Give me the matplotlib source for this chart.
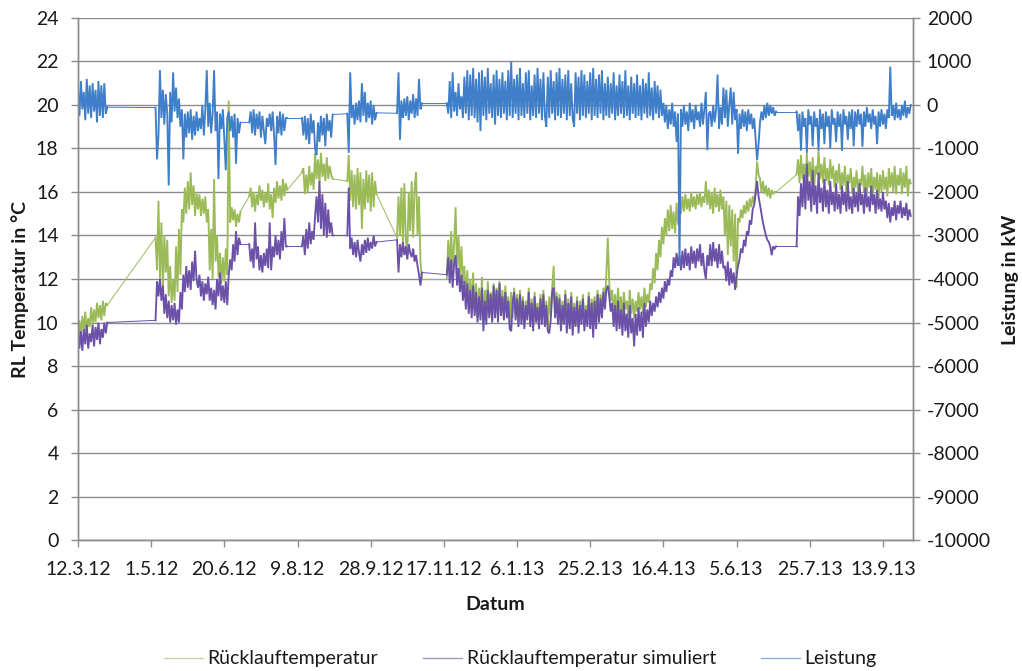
import numpy as np
import matplotlib
matplotlib.use("Agg")
import matplotlib.pyplot as plt
import matplotlib.dates as mdates
from matplotlib import font_manager
from matplotlib.lines import Line2D

# ---------------------------------------------------------------------------
# Data: daily readings, grouped into measurement runs (gaps between runs
# are bridged by a thin straight line, as in the original logger export)
# ---------------------------------------------------------------------------
origin = np.datetime64("2012-03-12")
run_offsets = [0, 53, 117, 153, 184, 218, 252, 491]   # first day of each run

# Rücklauftemperatur (measured), °C
green_runs = [
    [9.0, 10.1, 9.4, 10.3, 9.6, 10.5, 9.5, 10.2, 9.8, 10.7, 9.9, 10.6, 10.0, 10.9, 10.2, 10.8, 10.1, 11.0, 10.3, 10.9, 10.8],
    [13.9, 12.4, 15.6, 12.0, 14.6, 11.5, 14.0, 12.3, 13.8, 11.2,
     12.6, 10.9, 12.0, 11.0, 13.5, 11.4, 14.3, 12.2, 15.2, 14.6,
     16.2, 15.0, 16.5, 15.2, 16.9, 15.4, 16.3, 14.9, 16.0, 15.2,
     15.9, 14.9, 15.7, 15.0, 15.8, 14.6, 15.2, 12.4, 14.3, 12.0,
     16.6, 12.8, 14.0, 12.1, 13.2, 11.8, 13.0, 11.9, 13.4, 12.2,
     20.2, 14.6, 15.3, 14.7, 15.2, 14.4, 15.0, 14.6, 15.1],
    [15.8, 16.2, 15.3, 16.0, 15.1, 15.9, 15.4, 16.3, 15.6, 16.1,
     15.3, 16.0, 15.5, 16.4, 15.2, 15.9, 14.8, 16.2, 15.5, 16.5,
     15.7, 16.3, 15.6, 16.6, 15.8, 16.4, 16.1],
    [16.9, 17.1, 15.9, 16.8, 16.0, 17.2, 16.3, 16.9, 16.1, 17.8,
     16.6, 17.5, 16.4, 17.8, 16.7, 17.3, 16.5, 17.6, 16.6, 17.2,
     16.8, 16.6],
    [16.5, 17.7, 15.6, 17.0, 15.3, 16.8, 15.2, 17.1, 15.4, 16.9,
     14.3, 16.6, 15.2, 17.0, 15.5, 16.8, 15.1, 16.9, 15.3, 16.5,
     15.9],
    [13.9, 15.8, 14.0, 16.2, 13.7, 16.4, 13.8, 13.1, 16.0, 14.2,
     16.5, 13.9, 16.2, 16.9, 14.0, 15.8, 12.8, 12.0],
    [12.0, 13.8, 12.3, 14.2, 12.5, 13.6, 15.3, 12.4, 14.0, 12.1,
     13.5, 11.8, 12.6, 11.0, 12.4, 10.6, 12.0, 10.8, 12.3, 10.5,
     11.8, 10.2, 11.6, 10.4, 12.1, 10.0, 11.5, 10.3, 11.9, 10.6,
     11.4, 10.1, 11.8, 10.4, 11.6, 10.3, 11.9, 10.5, 11.5, 10.3,
     11.7, 10.6, 11.2, 10.0, 11.4, 10.2, 11.6, 10.4, 11.3, 9.9,
     11.5, 10.1, 11.2, 9.8, 11.0, 10.3, 11.6, 10.0, 11.1, 9.8,
     11.4, 10.2, 10.9, 9.9, 11.3, 10.1, 11.5, 10.0, 11.0, 9.7,
     11.2, 10.3, 11.6, 12.6, 10.5, 11.4, 10.1, 11.3, 9.9, 11.0,
     10.2, 11.5, 9.8, 11.1, 10.0, 11.4, 9.7, 10.9, 10.1, 11.2,
     9.8, 11.0, 10.2, 11.3, 9.9, 10.8, 10.1, 11.4, 10.0, 11.1,
     10.3, 11.2, 10.0, 11.5, 10.4, 11.3, 10.6, 11.6, 11.0, 12.2,
     13.9, 11.8, 11.0, 11.5, 10.4, 11.3, 10.3, 11.6, 10.5, 11.2,
     10.2, 11.4, 10.6, 11.0, 10.3, 11.5, 10.4, 11.1, 10.2, 11.0,
     10.5, 11.4, 10.6, 11.2, 10.4, 11.6, 10.7, 11.3, 10.9, 11.8,
     11.5, 12.5, 11.8, 13.2, 12.4, 13.8, 13.0, 14.4, 13.6, 14.8,
     14.0, 15.2, 14.2, 15.4, 14.3, 15.1, 14.1, 15.5, 14.5, 15.3,
     15.0, 15.8, 15.1, 15.9, 15.2, 15.7, 15.1, 16.0, 15.3, 15.8,
     15.2, 15.9, 15.4, 16.0, 15.3, 15.8, 15.5, 16.5, 15.4, 16.1,
     15.2, 16.0, 15.0, 16.2, 15.3, 15.9, 15.1, 16.1, 15.2, 15.8,
     14.0, 15.6, 13.1, 15.4, 13.5, 15.2, 12.8, 15.0, 11.6, 14.8,
     14.6, 15.2, 14.8, 15.4, 15.0, 15.6, 15.1, 15.7, 15.3, 15.8,
     15.5, 16.2, 17.4, 16.8, 16.6, 16.0, 16.5, 15.9, 16.3, 15.8,
     16.2, 15.7, 16.1, 15.9, 16.0, 16.0],
    [16.8, 17.5, 16.4, 17.7, 16.6, 17.3, 16.3, 17.8, 16.7, 17.4,
     16.5, 17.6, 16.2, 17.2, 16.8, 17.9, 16.6, 17.3, 16.4, 17.6,
     16.5, 17.1, 16.3, 17.5, 16.6, 17.2, 16.2, 17.0, 16.4, 17.3,
     16.1, 16.9, 16.3, 17.2, 16.0, 16.8, 16.4, 17.1, 15.9, 16.7,
     16.2, 17.0, 15.9, 16.6, 16.3, 17.2, 16.0, 16.8, 15.8, 16.9,
     16.2, 17.1, 15.9, 16.7, 16.1, 16.9, 15.7, 16.8, 16.0, 17.0,
     16.1, 16.7, 15.8, 17.1, 16.2, 16.9, 16.0, 17.2, 15.9, 16.8,
     16.3, 17.1, 15.9, 16.9, 16.2, 17.2, 15.8, 16.6, 16.4],
]

# Rücklauftemperatur simuliert, °C
purple_runs = [
    [9.8, 8.8, 9.6, 8.7, 9.7, 9.0, 9.9, 8.8, 9.5, 9.1, 9.9, 8.9, 9.8, 9.2, 10.0, 9.0, 9.7, 9.3, 10.0, 9.5, 10.0],
    [10.1, 11.9, 11.2, 12.0, 11.0, 11.7, 10.4, 11.3, 10.2, 11.0,
     10.0, 10.8, 10.1, 10.9, 9.9, 10.6, 10.0, 11.4, 10.6, 12.2,
     11.4, 12.6, 11.6, 12.4, 11.5, 12.8, 11.9, 13.3, 12.0, 11.6,
     12.2, 11.2, 11.9, 11.0, 11.8, 11.3, 12.1, 11.0, 11.6, 10.8,
     11.5, 10.6, 12.0, 11.2, 12.3, 11.0, 11.7, 10.9, 11.9, 10.8,
     12.2, 12.9, 12.4, 13.6, 12.8, 14.2, 13.1, 13.9, 13.6],
    [13.6, 12.8, 13.4, 12.5, 14.6, 12.9, 13.5, 12.4, 13.1, 12.3,
     13.2, 12.6, 13.4, 12.5, 14.6, 12.4, 13.5, 13.0, 14.0, 13.1,
     13.8, 12.9, 14.2, 13.3, 14.8, 13.5, 13.5],
    [13.5, 14.0, 13.1, 14.3, 13.4, 14.6, 13.6, 14.2, 13.8, 14.9,
     15.8, 14.6, 16.5, 14.3, 15.9, 14.0, 15.5, 13.9, 15.2, 14.1,
     14.6, 14.0],
    [14.0, 16.2, 13.4, 13.9, 13.1, 13.7, 13.0, 13.8, 13.2, 12.8,
     13.6, 13.1, 13.8, 13.2, 13.9, 13.3, 13.7, 13.4, 14.0, 13.5,
     13.7],
    [13.8, 12.3, 13.6, 13.0, 13.7, 13.1, 13.5, 12.9, 13.6, 13.2,
     13.0, 13.4, 12.8, 13.1, 12.6, 12.2, 11.7, 12.3],
    [12.2, 13.0, 11.8, 12.9, 11.6, 12.7, 13.1, 11.7, 12.5, 11.4,
     12.2, 11.0, 11.9, 10.6, 11.8, 10.4, 11.5, 10.2, 11.7, 10.3,
     11.4, 10.0, 11.2, 10.1, 11.6, 9.6, 11.0, 9.9, 11.5, 10.2,
     11.3, 10.0, 11.7, 10.2, 11.5, 10.0, 11.8, 10.3, 11.2, 10.1,
     11.4, 10.2, 11.0, 9.7, 9.6, 10.9, 11.4, 10.1, 11.1, 9.8,
     11.3, 9.9, 11.0, 9.7, 10.8, 10.1, 11.4, 9.8, 10.9, 9.6,
     11.2, 10.0, 10.7, 9.7, 11.1, 9.9, 11.3, 9.8, 10.8, 9.6,
     9.5, 10.1, 11.4, 11.6, 10.2, 11.2, 9.9, 11.1, 9.6, 10.8,
     9.9, 11.3, 9.5, 10.9, 9.7, 11.2, 9.4, 10.7, 9.8, 11.0,
     9.5, 10.8, 9.9, 11.1, 9.6, 10.6, 9.8, 11.2, 9.7, 10.9,
     9.3, 11.0, 9.7, 11.3, 10.0, 11.1, 10.2, 11.4, 10.6, 11.5,
     11.7, 11.2, 10.5, 10.9, 9.8, 10.8, 9.6, 11.0, 9.7, 10.6,
     9.4, 10.9, 9.6, 10.4, 9.3, 10.8, 9.5, 10.2, 8.9, 10.4,
     9.4, 10.7, 9.6, 10.5, 9.3, 10.9, 9.8, 10.6, 10.0, 11.0,
     10.3, 10.9, 10.5, 11.2, 10.7, 11.4, 10.9, 11.6, 11.1, 11.9,
     11.4, 12.0, 11.7, 12.4, 12.1, 13.0, 12.5, 13.2, 12.6, 13.1,
     12.4, 13.3, 12.5, 13.4, 12.6, 13.2, 12.4, 13.5, 12.7, 13.3,
     12.5, 13.4, 12.8, 13.6, 12.6, 13.2, 12.4, 12.0, 13.1, 12.6,
     13.6, 12.6, 13.7, 12.8, 13.4, 12.5, 13.6, 12.7, 13.3, 12.5,
     12.6, 11.9, 12.8, 11.7, 12.5, 11.8, 12.3, 11.5, 12.2, 12.6,
     12.9, 13.4, 13.2, 13.8, 13.5, 14.2, 14.0, 14.7, 14.5, 15.2,
     15.4, 15.9, 16.5, 15.8, 15.4, 15.0, 14.6, 14.3, 14.0, 13.8,
     13.7, 13.5, 13.1, 13.5, 13.4, 13.5],
    [13.5, 15.8, 14.9, 16.4, 15.3, 16.8, 15.2, 17.3, 15.6, 16.5,
     15.1, 17.0, 15.4, 16.3, 15.0, 16.9, 15.5, 16.2, 15.1, 16.6,
     15.3, 16.1, 15.0, 16.5, 15.4, 16.0, 15.1, 16.4, 15.2, 15.9,
     15.0, 16.3, 15.4, 16.0, 15.1, 16.5, 15.2, 15.8, 15.0, 16.2,
     15.3, 16.0, 15.1, 16.4, 15.4, 15.9, 15.0, 16.2, 15.3, 15.8,
     15.1, 16.3, 15.4, 15.9, 15.0, 16.1, 15.2, 15.7, 15.1, 16.0,
     15.2, 15.6, 14.8, 15.5, 14.6, 15.3, 14.9, 15.6, 14.7, 15.4,
     15.0, 15.6, 14.8, 15.3, 14.9, 15.5, 14.7, 15.2, 14.9],
]

# Leistung, kW
blue_runs = [
    [400, -250, 550, -100, 300, -350, 600, -200, 450, -300, 500, -150, 350, -400, 550, -250, 450, -300, 500, -200, -50],
    [-60, -1250, -700, 800, -300, 350, -450, 250, -200, -1850,
     300, -400, 750, -150, 400, -300, 150, -500, -100, -1250,
     -200, -750, -150, -650, -100, -800, -250, -700, -150, -600,
     -300, -550, 0, -700, -100, 800, -500, 50, -650, -200,
     800, -600, -150, -1700, -200, -550, -100, -800, -1500, -300,
     -150, -600, -250, -750, -200, -1350, -300, -650, -400],
    [-400, -150, -650, -100, -700, -200, -550, -150, -750, -250,
     -600, -900, -300, -500, -200, -600, -150, -700, -1380, -250,
     -650, -150, -700, -200, -600, -300, -300],
    [-300, -700, -250, -800, -300, -900, -200, -650, -350, -1000,
     -1150, -400, -850, -250, -700, -300, -950, -200, -600, -350,
     -750, -220],
    [-200, -1100, 750, -300, 0, -450, 50, -350, 100, -400,
     500, -250, 300, -400, 50, -300, 100, -450, 0, -350,
     -180],
    [-190, 750, -800, 100, -300, 150, -250, 200, -350, 100,
     -200, 250, -300, 150, -250, 600, -100, 40],
    [40, -200, 550, -300, 750, -150, 300, -250, 500, -100, 200, -300, 650,
     -200, 800, -350, 700, -250, 850, -300, 600, -400, 750, -600, 800,
     -250, 650, -350, 850, -200, 500, -300, 700, -450, 800, -250, 600,
     -300, 750, -200, 550, -350, 800, -250, 1000, -300, 600, -200, 700,
     -350, 850, -250, 500, -300, 750, -200, 800, -350, 450,
     -250, 700, -300, 850, -200, 600, -350, 750, -250, -500,
     650, -300, 800, -200, 550, -350, 750, -250, 850, -300,
     600, -200, 700, -350, 800, -250, 500, -300, -500, 750,
     -200, 650, -350, 800, -250, 700, -300, 550, -200, 750,
     -350, 850, -250, 600, -300, 700, -200, 800, -350, 500,
     -250, 650, -300, 500, -200, 750, -350, 450, -250, 700,
     -200, 550, -300, 800, -250, 450, -350, 650, -200, 500,
     -300, 700, -250, 450, -350, 600, -200, 500, -300, 750,
     -250, 400, -350, 550, -200, 450, -300, 350, -250,
     50, -400, 0, -550, -100, -450, 50, -500, -150, -850,
     -200, -3700, -100, -500, 0, -450, -150, -600, 50, -400,
     -100, -550, 0, -350, -150, -500, 50, -450, -100, 300,
     -1040, -200,
     -150, -500, 0, -400, -100, 700, -550, -50, -450, 400,
     -300, 350, -500, 0, 400, -450, 300, -350, -100, -1120,
     -200, -550, -100, -500, -150, -600, -100, -450, -200, -550,
     -300, -800, -1270, -900, -400, -150, -350, 0, -300, 50,
     -250, 0, -200, -50, -250, -150],
    [-150, -600, -200, -1050, -150, -500, -300, -1100, -100, -450,
     -250, -950, -150, -500, -300, -1050, -100, -550, -200, -900,
     -150, -500, -250, -1000, -100, -450, -300, -850, -150, -500,
     -200, -1050, -100, -450, -250, -800, -150, -550, -100, -950,
     -150, -500, -100, -450, -200, -960, -150, -500, -50, -400,
     -200, -550, -100, -450, -250, -900, -150, -500, -100, -450,
     -200, -550, -100, -300, 880, -250, 0, -350, 50, -300,
     -100, -350, 0, -250, 100, -300, -50, -200, 0],
]

series_labels = ["Rücklauftemperatur", "Rücklauftemperatur simuliert", "Leistung"]
tick_step_days = 50
left_ticks = list(range(0, 25, 2))
right_ticks = list(range(-10000, 2001, 1000))

# ---------------------------------------------------------------------------
GREEN = "#9BBB59"
PURPLE = "#6B52A8"
BLUE = "#3F7EC8"
GRID = "#8C8C8C"
TEXT = "#1A1A1A"

available = {f.name for f in font_manager.fontManager.ttflist}
family = next(f for f in ["Liberation Sans Narrow", "Lato", "Open Sans", "DejaVu Sans"]
              if f in available)
plt.rcParams["font.family"] = [family, "DejaVu Sans"]
plt.rcParams["axes.unicode_minus"] = False
FS = 14

RUN_LW = 1.35     # dense measurement runs
BRIDGE_LW = 0.7   # straight connection across missing data


def to_dates(offsets):
    return origin + np.asarray(offsets).astype("timedelta64[D]")


def draw_series(axis, runs, color):
    prev = None
    for start, values in zip(run_offsets, runs):
        days = [start + i for i in range(len(values))]
        if prev is not None:
            axis.plot(to_dates([prev[0], days[0]]), [prev[1], values[0]],
                      color=color, lw=BRIDGE_LW)
        axis.plot(to_dates(days), values, color=color, lw=RUN_LW,
                  solid_joinstyle="miter")
        prev = (days[-1], values[-1])


fig = plt.figure(figsize=(10.22, 6.71), dpi=100)
ax = fig.add_axes([0.0763, 0.1952, 0.8170, 0.7780])
ax2 = ax.twinx()

draw_series(ax, green_runs, GREEN)
draw_series(ax, purple_runs, PURPLE)
draw_series(ax2, blue_runs, BLUE)

x0 = origin
x1 = origin + np.timedelta64(570 * 24 + 12, "h")
ax.set_xlim(x0, x1)
ax.set_ylim(0, 24)
ax2.set_ylim(-10000, 2000)

xticks = [origin + np.timedelta64(k * tick_step_days, "D") for k in range(12)]
ax.set_xticks(xticks)
ax.xaxis.set_major_formatter(
    plt.FuncFormatter(lambda v, pos: (lambda d: f"{d.day}.{d.month}.{d:%y}")(mdates.num2date(v))))
ax.set_yticks(left_ticks)
ax2.set_yticks(right_ticks)

ax.yaxis.grid(True, color=GRID, lw=1.0)
ax.set_axisbelow(True)

for a in (ax, ax2):
    for s in a.spines.values():
        s.set_color(GRID)
        s.set_linewidth(1.0)
    a.spines["top"].set_visible(False)
    a.tick_params(colors=GRID, labelcolor=TEXT, labelsize=FS, length=5, width=1.0)
ax.tick_params(axis="x", pad=10)
ax.tick_params(axis="y", pad=9)
ax2.tick_params(axis="y", pad=5)

ax.set_xlabel("Datum", fontsize=FS, fontweight="bold", color=TEXT, labelpad=13)
ax.set_ylabel("RL Temperatur in °C", fontsize=FS, fontweight="bold", color=TEXT)
ax2.set_ylabel("Leistung in kW", fontsize=FS, fontweight="bold", color=TEXT)
ax.yaxis.set_label_coords(-0.0587, 0.479)
ax2.yaxis.set_label_coords(1.1065, 0.498)

handles = [Line2D([], [], color=c, lw=1.0, alpha=0.6) for c in (GREEN, PURPLE, BLUE)]
fig.legend(handles, series_labels, loc="center", bbox_to_anchor=(0.509, 0.018),
           ncol=3, frameon=False, fontsize=FS, handlelength=2.0, handletextpad=0.25,
           columnspacing=2.3, labelcolor=TEXT)

fig.savefig("out.png", dpi=100)
